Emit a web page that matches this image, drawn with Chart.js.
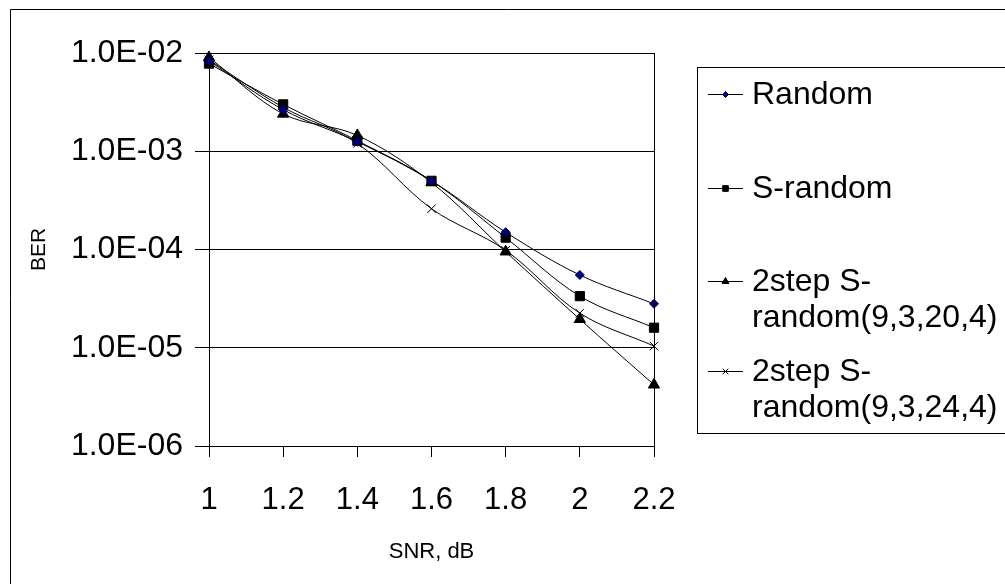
<!DOCTYPE html>
<html>
<head>
<meta charset="utf-8">
<script src="https://cdn.jsdelivr.net/npm/chart.js@4.4.0/dist/chart.umd.min.js"></script>
<style>
  html, body { margin: 0; padding: 0; background: #ffffff; }
  #wrap { width: 1005px; height: 584px; position: relative; }
</style>
</head>
<body>
<div id="wrap"><canvas id="c" width="1005" height="584"></canvas></div>
<script>
// ---- data ----
const snrValues = [1, 1.2, 1.4, 1.6, 1.8, 2, 2.2];
const xTickLabels = ['1', '1.2', '1.4', '1.6', '1.8', '2', '2.2'];
const yTickValues = [1e-6, 1e-5, 1e-4, 1e-3, 1e-2];
const yTickLabels = ['1.0E-06', '1.0E-05', '1.0E-04', '1.0E-03', '1.0E-02'];

const seriesNames = ['Random', 'S-random', '2step S-random(9,3,20,4)', '2step S-random(9,3,24,4)'];
const legendLines = [['Random'], ['S-random'], ['2step S-', 'random(9,3,20,4)'], ['2step S-', 'random(9,3,24,4)']];

const berRandom   = [8.3e-3, 2.65e-3, 1.25e-3, 5.0e-4, 1.5e-4, 5.5e-5, 2.8e-5];
const berSRandom  = [7.8e-3, 3.0e-3, 1.28e-3, 5.0e-4, 1.32e-4, 3.35e-5, 1.6e-5];
const ber2step20  = [9.0e-3, 2.4e-3, 1.45e-3, 4.8e-4, 9.5e-5, 1.95e-5, 4.2e-6];
const ber2step24  = [8.5e-3, 2.8e-3, 1.2e-3, 2.6e-4, 9.8e-5, 2.25e-5, 1.04e-5];

const FONT = "'Liberation Sans', Arial, sans-serif";

function pts(ys) { return snrValues.map((x, i) => ({ x: x, y: ys[i] })); }

const styles = [
  { pointStyle: 'rectRot', radius: 4.5, bg: '#000080', border: '#000050', lr: 3 },
  { pointStyle: 'rect', radius: 6.5, bg: '#000000', border: '#000000', lr: 4 },
  { pointStyle: 'triangle', radius: 6.5, bg: '#000000', border: '#000000', lr: 4 },
  { pointStyle: 'crossRot', radius: 6, bg: '#000000', border: '#000000', lr: 4 }
];
const seriesData = [berRandom, berSRandom, ber2step20, ber2step24];

const datasets = seriesData.map((d, i) => ({
  label: seriesNames[i],
  data: pts(d),
  borderColor: '#000000',
  borderWidth: 1,
  tension: 0.35,
  pointStyle: styles[i].pointStyle,
  pointRadius: styles[i].radius,
  pointHoverRadius: styles[i].radius,
  pointBackgroundColor: styles[i].bg,
  pointBorderColor: styles[i].border,
  pointBorderWidth: 1,
  clip: false,
  fill: false
}));

const framePlugin = {
  id: 'frame',
  beforeDraw(chart) {
    const ctx = chart.ctx;
    ctx.save();
    ctx.fillStyle = '#ffffff';
    ctx.fillRect(0, 0, chart.width, chart.height);
    ctx.strokeStyle = '#000000';
    ctx.lineWidth = 1;
    ctx.beginPath();
    ctx.moveTo(10.5, chart.height + 5);
    ctx.lineTo(10.5, 9.5);
    ctx.lineTo(chart.width + 5, 9.5);
    ctx.stroke();
    ctx.restore();
  },
  afterDatasetsDraw(chart) {
    const a = chart.chartArea;
    const ctx = chart.ctx;
    ctx.save();
    ctx.strokeStyle = '#000000';
    ctx.lineWidth = 1;
    ctx.beginPath();
    ctx.moveTo(Math.round(a.right) + 0.5, Math.round(a.top));
    ctx.lineTo(Math.round(a.right) + 0.5, Math.round(a.bottom));
    ctx.stroke();
    ctx.restore();
  },
  afterDraw(chart) {
    const ctx = chart.ctx;
    ctx.save();
    ctx.strokeStyle = '#000000';
    ctx.lineWidth = 1;
    ctx.strokeRect(697.5, 67.5, 400, 366);
    const rowY = [94, 188, 281, 371];
    ctx.font = '32px ' + FONT;
    ctx.textBaseline = 'middle';
    ctx.textAlign = 'left';
    chart.data.datasets.forEach((ds, i) => {
      const y = rowY[i];
      ctx.strokeStyle = '#000000';
      ctx.lineWidth = 1;
      ctx.beginPath();
      ctx.moveTo(708, y + 0.5);
      ctx.lineTo(743, y + 0.5);
      ctx.stroke();
      ctx.fillStyle = ds.pointBackgroundColor;
      ctx.strokeStyle = ds.pointBorderColor;
      Chart.helpers.drawPoint(ctx, { pointStyle: ds.pointStyle, radius: styles[i].lr, rotation: 0, borderWidth: 1 }, 725.5, y + 0.5);
      ctx.fillStyle = '#000000';
      legendLines[i].forEach((t, k) => {
        ctx.fillText(t, 752, y + 1 + k * 36);
      });
    });
    ctx.restore();
  }
};

new Chart(document.getElementById('c'), {
  type: 'line',
  data: { datasets: datasets },
  options: {
    responsive: false,
    animation: false,
    events: [],
    layout: { padding: { left: 0, top: 53, right: 351, bottom: 0 } },
    plugins: { legend: { display: false }, tooltip: { enabled: false } },
    scales: {
      x: {
        type: 'linear',
        min: 1,
        max: 2.2,
        afterBuildTicks(scale) { scale.ticks = snrValues.map(v => ({ value: v })); },
        afterFit(scale) { scale.height = 584 - 446; },
        ticks: {
          callback: (v, i) => xTickLabels[i],
          font: { family: FONT, size: 31 },
          color: '#000000',
          padding: 25,
          maxRotation: 0,
          autoSkip: false
        },
        grid: { drawOnChartArea: false, drawTicks: true, tickLength: 11, color: '#000000', lineWidth: 1 },
        border: { color: '#000000', width: 1 },
        title: { display: true, text: 'SNR, dB', font: { family: FONT, size: 22 }, color: '#000000', padding: { top: 0, bottom: 19 } }
      },
      y: {
        type: 'logarithmic',
        min: 1e-6,
        max: 1e-2,
        afterBuildTicks(scale) { scale.ticks = yTickValues.map(v => ({ value: v })); },
        afterFit(scale) { scale.width = 209; },
        ticks: {
          callback: (v, i) => yTickLabels[i],
          font: { family: FONT, size: 32 },
          color: '#000000',
          padding: 12,
          autoSkip: false
        },
        grid: { color: '#000000', lineWidth: 1, tickLength: 14 },
        border: { color: '#000000', width: 1 },
        title: { display: true, text: 'BER', font: { family: FONT, size: 21 }, color: '#000000', padding: { top: 27, bottom: 0 } }
      }
    }
  },
  plugins: [framePlugin]
});
</script>
</body>
</html>
